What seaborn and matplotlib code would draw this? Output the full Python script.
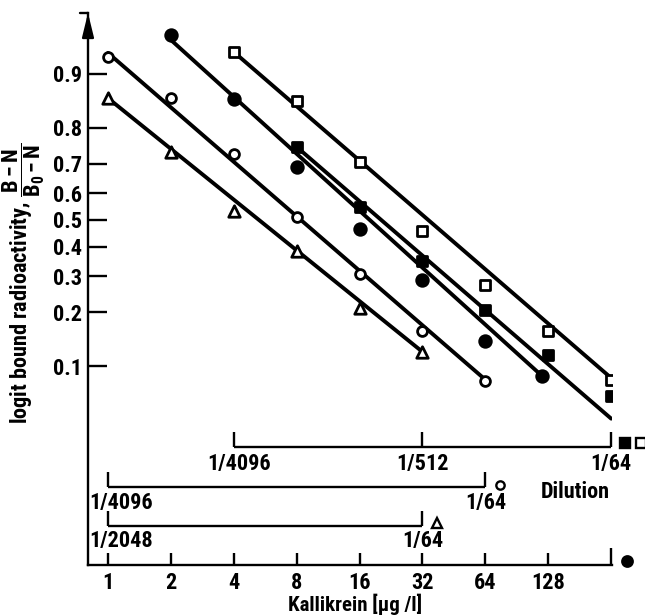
import numpy as np
import pandas as pd
import matplotlib
matplotlib.use("Agg")
import matplotlib.pyplot as plt
import seaborn as sns
from matplotlib import transforms
from matplotlib import font_manager as fm
from matplotlib.ticker import FixedLocator, NullFormatter, NullLocator

# ---------------- data ----------------
sq_open_x = [4, 8, 16, 32, 64, 128, 256]
sq_open_y = [0.926, 0.857, 0.705, 0.46, 0.273, 0.158, 0.083]
sq_fill_x = [8, 16, 32, 64, 128, 256]
sq_fill_y = [0.75, 0.549, 0.35, 0.206, 0.116, 0.066]
ci_fill_x = [2, 4, 8, 16, 32, 64, 120]
ci_fill_y = [0.942, 0.86, 0.69, 0.466, 0.29, 0.14, 0.087]
ci_open_x = [1, 2, 4, 8, 16, 32, 64]
ci_open_y = [0.921, 0.862, 0.73, 0.51, 0.307, 0.158, 0.082]
tri_x = [1, 2, 4, 8, 16, 32]
tri_y = [0.862, 0.735, 0.534, 0.385, 0.21, 0.121]

# fitted regression lines (end points)
fit_sq_open_x = [4, 256];  fit_sq_open_y = [0.926, 0.085]
fit_sq_fill_x = [8, 256];  fit_sq_fill_y = [0.75, 0.048]
fit_ci_fill_x = [2, 120];  fit_ci_fill_y = [0.9375, 0.087]
fit_ci_open_x = [1, 64];   fit_ci_open_y = [0.925, 0.083]
fit_tri_x = [1, 32];       fit_tri_y = [0.862, 0.121]

x_ticks = [1, 2, 4, 8, 16, 32, 64, 128]
x_tick_labels = ["1", "2", "4", "8", "16", "32", "64", "128"]
y_ticks = [0.1, 0.2, 0.3, 0.4, 0.5, 0.6, 0.7, 0.8, 0.9]
y_tick_labels = ["0.1", "0.2", "0.3", "0.4", "0.5", "0.6", "0.7", "0.8", "0.9"]

# dilution scales
dil_sq_conc = [4, 32, 256];  dil_sq_labels = ["1/4096", "1/512", "1/64"]
dil_ci_conc = [1, 64];       dil_ci_labels = ["1/4096", "1/64"]
dil_tri_conc = [1, 32];      dil_tri_labels = ["1/2048", "1/64"]

# ---------------- style ----------------
sns.set_style("ticks")
names = {f.name for f in fm.fontManager.ttflist}
cands = ["Liberation Sans Narrow", "Roboto Condensed", "Open Sans Condensed",
         "DejaVu Sans"]
FONT = [c for c in cands if c in names] or ["DejaVu Sans"]
plt.rcParams["font.family"] = FONT
plt.rcParams["font.stretch"] = "condensed"
plt.rcParams["font.weight"] = "bold"
plt.rcParams["text.color"] = "black"
plt.rcParams["axes.labelcolor"] = "black"
plt.rcParams["xtick.color"] = "black"
plt.rcParams["ytick.color"] = "black"
plt.rcParams["mathtext.fontset"] = "custom"
plt.rcParams["mathtext.rm"] = FONT[0] + ":bold"
plt.rcParams["mathtext.it"] = FONT[0] + ":bold"
plt.rcParams["mathtext.bf"] = FONT[0] + ":bold"
FS = 16
FP = fm.FontProperties(family=FONT, weight="bold", stretch="condensed",
                       size=FS)
FPL = fm.FontProperties(family=FONT, weight="bold", stretch="condensed",
                        size=15)

W, H = 645, 616
fig = plt.figure(figsize=(W / 100, H / 100), dpi=100)
ax = fig.add_axes([88 / W, 1 - 565 / H, 524 / W, 552 / H])
ax.set_facecolor("white")

ax.set_xscale("log", base=2)
ax.set_yscale("logit")
ax.set_xlim(2 ** (-20 / 62.9), 2 ** (504 / 62.9))
lo = 1 / (1 + np.exp(345 / 66.5))
hi = 1 / (1 + np.exp(-207 / 66.5))
ax.set_ylim(lo, hi)

LW = 2.8
for fx, fy in [(fit_sq_open_x, fit_sq_open_y), (fit_sq_fill_x, fit_sq_fill_y),
               (fit_ci_fill_x, fit_ci_fill_y), (fit_ci_open_x, fit_ci_open_y),
               (fit_tri_x, fit_tri_y)]:
    sns.lineplot(x=fx, y=fy, ax=ax, color="black", lw=LW, zorder=2,
                 estimator=None, sort=False)

def pts(x, y, marker, filled, s):
    df = pd.DataFrame({"c": x, "v": y})
    sns.scatterplot(data=df, x="c", y="v", ax=ax, marker=marker, s=s,
                    color="black" if filled else "white", edgecolor="black",
                    linewidth=2.0, zorder=3)

pts(sq_open_x, sq_open_y, "s", False, 62)
pts(sq_fill_x, sq_fill_y, "s", True, 62)
pts(ci_fill_x, ci_fill_y, "o", True, 70)
pts(ci_open_x, ci_open_y, "o", False, 50)
pts(tri_x, tri_y, "^", False, 68)

# axes styling
for sp in ["top", "right"]:
    ax.spines[sp].set_visible(False)
for sp in ["left", "bottom"]:
    ax.spines[sp].set_linewidth(1.7)
    ax.spines[sp].set_color("black")

ax.set_yticks(y_ticks)
ax.set_yticklabels(y_tick_labels, fontproperties=FP)
ax.yaxis.set_minor_locator(NullLocator())
ax.yaxis.set_minor_formatter(NullFormatter())
ax.tick_params(axis="y", direction="in", length=14, width=1.7, pad=4,
               colors="black")

ax.set_xticks(x_ticks)
ax.set_xticklabels(x_tick_labels, fontproperties=FP)
ax.xaxis.set_minor_locator(FixedLocator([256]))
ax.xaxis.set_minor_formatter(NullFormatter())
ax.tick_params(axis="x", which="major", direction="in", length=8.5, width=1.7,
               pad=5, colors="black")
ax.tick_params(axis="x", which="minor", direction="in", length=12, width=1.7)
ax.set_xlabel("Kallikrein [µg /l]", fontproperties=FPL)
ax.xaxis.set_label_coords((355 - 88) / 524, (565 - 604) / 552)
ax.xaxis.label.set_verticalalignment("center")
ax.set_ylabel("")

# y-axis arrow at top
ax.annotate("", xy=(0, 1.0), xycoords="axes fraction", xytext=(0, 0.96),
            arrowprops=dict(arrowstyle="-|>,head_length=0.9,head_width=0.22",
                            mutation_scale=16, color="black", lw=1.7,
                            shrinkA=0, shrinkB=0))
fig.add_artist(plt.Line2D([80 / W, 88 / W], [1 - 13 / H, 1 - 13 / H],
                          color="black", lw=1.7))

fig.text(24 / W, 1 - 283 / H,
         r"logit bound radioactivity, $\dfrac{\mathbf{B-N}}{\mathbf{B_0-N}}$",
         rotation=90, ha="center", va="center", fontproperties=FP)

# dilution scales
trans = transforms.blended_transform_factory(ax.transData, fig.transFigure)

def bracket(concs, labels, py_line, py_label, dx_first):
    y0 = 1 - py_line / H
    y1 = 1 - (py_line - 15) / H
    ax.plot([concs[0], concs[-1]], [y0, y0], transform=trans, color="black",
            lw=1.7, clip_on=False, solid_capstyle="butt")
    for c in concs:
        ax.plot([c, c], [y0, y1], transform=trans, color="black", lw=1.7,
                clip_on=False, solid_capstyle="butt")
    for i, (c, lab) in enumerate(zip(concs, labels)):
        dx = dx_first if i == 0 else 0
        ax.annotate(lab, xy=(c, 1 - py_label / H), xycoords=trans,
                    xytext=(dx, 0), textcoords="offset points",
                    ha="center", va="center", fontproperties=FP,
                    annotation_clip=False)

bracket(dil_sq_conc, dil_sq_labels, 447, 464, 3.5)
bracket(dil_ci_conc, dil_ci_labels, 487, 503, 9.5)
bracket(dil_tri_conc, dil_tri_labels, 526, 541, 9.5)

# key symbols next to the scales
def key(px, py, marker, filled, ms):
    fig.add_artist(plt.Line2D([px / W], [1 - py / H], marker=marker,
                              markersize=ms, linestyle="none",
                              markerfacecolor="black" if filled else "white",
                              markeredgecolor="black", markeredgewidth=1.7))

key(625, 443, "s", True, 6.5)
key(641, 443, "s", False, 6.5)
key(500, 485, "o", False, 6)
key(437, 523, "^", False, 7)
key(627, 561, "o", True, 7.5)
fig.text(575 / W, 1 - 492 / H, "Dilution", ha="center", va="center",
         fontproperties=FP)

fig.savefig("out.png", dpi=100, facecolor="white")
